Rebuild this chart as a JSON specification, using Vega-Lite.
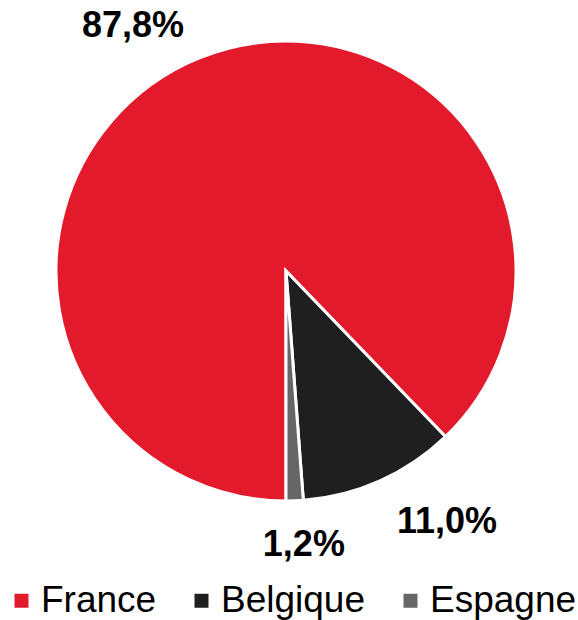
{
  "$schema": "https://vega.github.io/schema/vega-lite/v6.json",
  "width": 572,
  "height": 542,
  "autosize": "none",
  "padding": {"left": 0, "top": 0, "right": 6, "bottom": 78},
  "background": "white",
  "config": {"view": {"stroke": null}},
  "data": {
    "values": [
      {"pays": "France", "part": 87.8, "label": "87,8%", "rang": 1},
      {"pays": "Belgique", "part": 11.0, "label": "11,0%", "rang": 2},
      {"pays": "Espagne", "part": 1.2, "label": "1,2%", "rang": 3}
    ]
  },
  "encoding": {
    "theta": {"field": "part", "type": "quantitative", "stack": true, "scale": {"range": [3.14159265, 9.42477796]}},
    "order": {"field": "rang", "type": "quantitative"},
    "color": {
      "field": "pays",
      "type": "nominal",
      "sort": ["France", "Belgique", "Espagne"],
      "scale": {"domain": ["France", "Belgique", "Espagne"], "range": ["#E31A2C", "#1F1F1F", "#666666"]},
      "legend": {
        "title": null,
        "orient": "none",
        "direction": "horizontal",
        "legendX": 3,
        "legendY": 582,
        "padding": 0,
        "symbolType": "square",
        "symbolSize": 196,
        "symbolStrokeWidth": 0,
        "labelFont": "Liberation Sans",
        "labelFontSize": 37,
        "labelColor": "#000000",
        "labelOffset": 1,
        "columnPadding": 26,
        "labelLimit": 300
      }
    }
  },
  "layer": [
    {"mark": {"type": "arc", "outerRadius": 230, "stroke": "white", "strokeWidth": 3}},
    {
      "mark": {"type": "text", "radius": 262, "dx": -55, "dy": -2, "font": "Liberation Sans", "fontWeight": "bold", "fontSize": 36, "align": "center", "baseline": "middle"},
      "encoding": {"text": {"condition": {"test": "datum.pays === 'France'", "field": "label"}, "value": ""}, "color": {"value": "#000000"}}
    },
    {
      "mark": {"type": "text", "radius": 262, "dx": 54, "dy": 12, "font": "Liberation Sans", "fontWeight": "bold", "fontSize": 36, "align": "center", "baseline": "middle"},
      "encoding": {"text": {"condition": {"test": "datum.pays === 'Belgique'", "field": "label"}, "value": ""}, "color": {"value": "#000000"}}
    },
    {
      "mark": {"type": "text", "radius": 262, "dx": 8, "dy": 12, "font": "Liberation Sans", "fontWeight": "bold", "fontSize": 36, "align": "center", "baseline": "middle"},
      "encoding": {"text": {"condition": {"test": "datum.pays === 'Espagne'", "field": "label"}, "value": ""}, "color": {"value": "#000000"}}
    }
  ]
}
